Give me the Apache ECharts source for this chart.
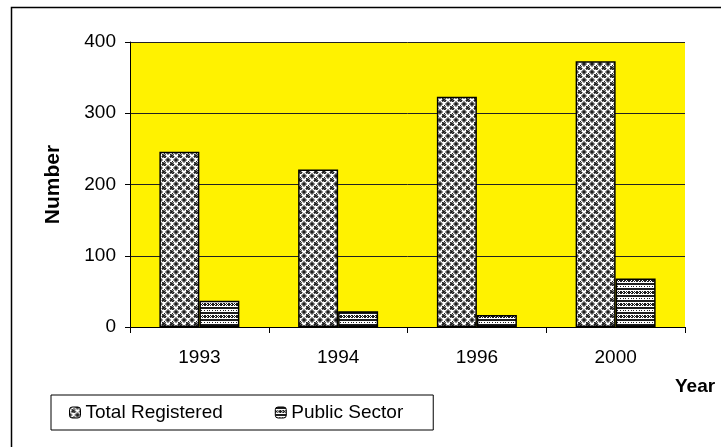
<!DOCTYPE html>
<html>
<head>
<meta charset="utf-8">
<script src="https://cdn.jsdelivr.net/npm/echarts@6/dist/echarts.min.js"></script>
<style>
    html, body { margin: 0; padding: 0; background: #fff; }
    #main { width: 721px; height: 447px; }
</style>
</head>
<body>
<div id="main"></div>
<script>
// data
var years = ['1993', '1994', '1996', '2000'];
var totalRegistered = [246, 221, 323, 373];
var publicSector = [37, 22, 17, 68];
var yTicks = [0, 100, 200, 300, 400];

var font = '"Liberation Sans", Arial, sans-serif';

// build a small tile from rows of chars -> canvas pattern
function makeTile(rows, colors) {
    var c = document.createElement('canvas');
    c.width = rows[0].length;
    c.height = rows.length;
    var ctx = c.getContext('2d');
    for (var y = 0; y < rows.length; y++) {
        for (var x = 0; x < rows[y].length; x++) {
            ctx.fillStyle = colors[rows[y][x]];
            ctx.fillRect(x, y, 1, 1);
        }
    }
    return c;
}

var shades = {k: '#1e1e1e', d: '#555', g: '#9a9a9a', w: '#ffffff'};
// grey "rings" look of Total Registered
var totalTile = makeTile([
    'kdgwwgdk',
    'dgwwkwgd',
    'gwkdgdwg',
    'wwdkkgww',
    'wgkkdkgw',
    'gwdgkdwg',
    'dgwwwwgd',
    'kdgwwgdk'
], shades);
// striped / dotted look of Public Sector
var publicTile = makeTile([
    'kkkkkkkk',
    'kkkkkkkk',
    'wwwwwwww',
    'kwkwkkwk',
    'kkwkkkkw',
    'kwkwkkwk',
    'wwwwwwww',
    'kkkkkkkk',
    'kkkkkkkk',
    'wwwwwwww',
    'wkwwkwwk',
    'wwwwwwww'
], shades);

var chart = echarts.init(document.getElementById('main'));

var option = {
    animation: false,
    backgroundColor: '#fff',
    textStyle: {fontFamily: font},
    graphic: [{
        type: 'rect',
        left: 9,
        top: 5,
        shape: {width: 760, height: 480},
        style: {fill: 'none', stroke: '#000', lineWidth: 1.5},
        silent: true
    }],
    grid: {
        left: 130,
        right: 36,
        top: 42,
        bottom: 120,
        show: true,
        backgroundColor: '#FFF200',
        borderWidth: 0
    },
    legend: {
        left: 51,
        top: 395,
        orient: 'horizontal',
        padding: [8, 30, 8, 18],
        itemGap: 52,
        itemWidth: 11,
        itemHeight: 11,
        itemStyle: {borderColor: '#000', borderWidth: 1},
        borderColor: '#000',
        borderWidth: 1,
        textStyle: {fontSize: 19, color: '#000', fontFamily: font},
        data: ['Total Registered', 'Public Sector']
    },
    xAxis: {
        type: 'category',
        data: years,
        name: 'Year',
        nameLocation: 'end',
        nameGap: -10,
        nameTextStyle: {
            fontSize: 19,
            fontWeight: 'bold',
            color: '#000',
            verticalAlign: 'top',
            padding: [50, 0, 0, 0]
        },
        axisLine: {lineStyle: {color: '#000', width: 1}},
        axisTick: {show: true, length: 6, lineStyle: {color: '#000'}},
        axisLabel: {fontSize: 19, color: '#000', margin: 21}
    },
    yAxis: {
        type: 'value',
        min: yTicks[0],
        max: yTicks[yTicks.length - 1],
        interval: 100,
        name: 'Number',
        nameLocation: 'middle',
        nameGap: 66,
        nameTextStyle: {fontSize: 21, fontWeight: 'bold', color: '#000'},
        axisLine: {show: true, lineStyle: {color: '#000', width: 1}},
        axisTick: {show: true, length: 5, lineStyle: {color: '#000'}},
        axisLabel: {fontSize: 19, color: '#000', margin: 14},
        splitLine: {show: true, lineStyle: {color: '#222', width: 1}}
    },
    series: [
        {
            name: 'Total Registered',
            type: 'bar',
            barWidth: 40,
            barGap: '0%',
            itemStyle: {
                color: {image: totalTile, repeat: 'repeat'},
                borderColor: '#000',
                borderWidth: 1.5
            },
            data: totalRegistered
        },
        {
            name: 'Public Sector',
            type: 'bar',
            barWidth: 40,
            barGap: '0%',
            itemStyle: {
                color: {image: publicTile, repeat: 'repeat'},
                borderColor: '#000',
                borderWidth: 1.5
            },
            data: publicSector
        }
    ]
};

chart.setOption(option);
</script>
</body>
</html>
